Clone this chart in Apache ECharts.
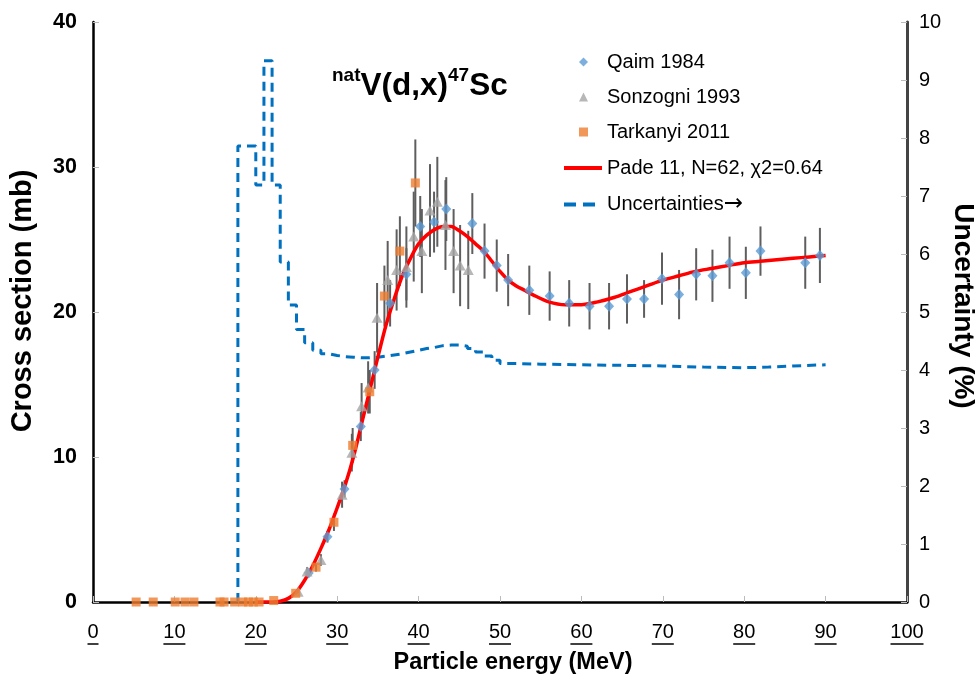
<!DOCTYPE html>
<html><head><meta charset="utf-8">
<script src="https://cdn.jsdelivr.net/npm/echarts@6/dist/echarts.min.js"></script>
<style>html,body{margin:0;padding:0;background:#fff}#c{width:975px;height:681px}</style>
</head><body><div id="c"></div>
<script>
// ---- data ----
const xTicks = [0,10,20,30,40,50,60,70,80,90,100];
const qaimE   = [26.5,28.8,30.9,32.9,34.6,36.5,38.5,40.2,41.9,43.4,46.6,48.1,49.6,51.0,53.6,56.1,58.5,61.0,63.4,65.6,67.7,69.9,72.0,74.1,76.1,78.2,80.2,82.0,87.5,89.3];
const qaimS   = [2.0,4.5,7.8,12.1,16.0,20.6,22.6,25.9,26.2,27.1,26.1,24.2,23.2,22.2,21.5,21.1,20.6,20.4,20.4,20.9,20.9,22.3,21.2,22.6,22.5,23.4,22.7,24.2,23.4,23.9];
const qaimErr = [0.2,0.4,0.6,1.0,1.3,1.6,1.8,2.1,2.1,2.2,2.1,1.9,1.8,1.8,1.7,1.7,1.6,1.6,1.6,1.7,1.3,1.8,1.7,1.8,1.8,1.8,1.8,1.7,1.8,1.9];
const sonzE   = [25.2,26.3,28.0,30.6,31.8,33.0,33.8,34.9,36.2,37.3,38.5,39.4,40.4,41.4,42.3,43.3,44.3,45.1,46.1];
const sonzS   = [0.7,2.1,2.9,7.4,10.3,13.5,14.8,19.6,22.2,22.9,23.1,25.2,24.2,27.0,27.6,26.0,24.2,23.2,22.9];
const sonzErr = [0.1,0.3,0.4,0.9,1.3,1.6,1.8,2.4,2.7,2.8,2.8,3.1,2.9,3.2,3.1,3.1,2.9,2.8,2.7];
const tarkE   = [5.3,7.4,10.1,11.3,12.4,15.6,16.1,17.4,18.4,19.1,19.7,20.4,22.2,24.9,27.4,29.6,31.9,34.0,35.8,37.7,39.6];
const tarkS   = [0,0,0,0,0,0,0,0,0,0,0,0,0.1,0.6,2.4,5.5,10.8,14.5,21.1,24.2,28.9];
const tarkErr = [0,0,0,0,0,0,0,0,0,0,0,0,0,0.1,0.3,0.6,1.2,1.5,2.1,2.4,3.0];
const fitE = [20,21,22,23,24,25,26,27,28,29,30,31,32,33,34,35,36,37,38,39,40,41,42,43,44,45,46,47,48,49,50,51,52,53,54,56,58,60,62,64,66,68,70,72,74,76,78,80,82,84,86,88,90];
const fitS = [0,0,0,0.05,0.25,0.7,1.5,2.5,3.7,5.0,6.5,8.1,10.0,12.3,14.6,16.9,19.1,20.9,22.5,23.7,24.7,25.3,25.7,25.9,25.9,25.6,25.2,24.7,24.2,23.5,22.8,22.2,21.8,21.5,21.2,20.7,20.5,20.5,20.7,21.0,21.4,21.8,22.2,22.5,22.8,23.0,23.2,23.4,23.5,23.6,23.7,23.8,23.9];
const uncE = [17.8,17.8,20,21,22,23,24,25,26,27,28,29,30,31,32,33,34,35,36,37,38,39,40,41,42,43,44,45,46,47,48,49,50,52,55,60,65,70,75,80,83,86,90];
const uncV = [0,7.86,7.19,9.33,7.19,5.86,5.12,4.70,4.47,4.34,4.28,4.25,4.23,4.22,4.21,4.21,4.22,4.24,4.26,4.28,4.31,4.34,4.37,4.39,4.42,4.43,4.43,4.41,4.37,4.31,4.24,4.17,4.11,4.10,4.09,4.08,4.07,4.05,4.04,4.05,4.07,4.09,4.09];

const FONT = 'Liberation Sans, Arial, sans-serif';
const chart = echarts.init(document.getElementById('c'));

function errBars(E, S, Err) {
  return {
    type: 'custom', name: 'err', silent: true, z: 1,
    renderItem: function (params, api) {
      const x = api.value(0), y = api.value(1), e = api.value(2);
      const a = api.coord([x, y - e]), b = api.coord([x, y + e]);
      return { type: 'line', shape: {x1: a[0], y1: a[1], x2: b[0], y2: b[1]},
               style: {stroke: '#5e5e5e', lineWidth: 2} };
    },
    data: E.map((x, i) => [x, S[i], Err[i]])
  };
}

const legendText = {fontFamily: FONT, fontSize: 20, color: '#000', lineHeight: 22};

chart.setOption({
  animation: false,
  backgroundColor: '#fff',
  textStyle: {fontFamily: FONT},
  grid: {left: 93, right: 68, top: 22, bottom: 79, containLabel: false, outerBoundsMode: 'none'},
  title: {
    left: 332, top: 66, padding: 0,
    text: '{sup|nat}{b|V(d,x)}{sup|47}{b|Sc}',
    textStyle: {
      rich: {
        b: {fontFamily: FONT, fontWeight: 'bold', fontSize: 31.5, lineHeight: 36, color: '#000', verticalAlign: 'bottom'},
        sup: {fontFamily: FONT, fontWeight: 'bold', fontSize: 19, lineHeight: 36, color: '#000', verticalAlign: 'top', padding: [0,0,14,0]}
      }
    }
  },
  legend: [{
    orient: 'vertical', left: 579, top: 51, padding: 0,
    itemWidth: 9, itemHeight: 9, itemGap: 13,
    textStyle: Object.assign({padding: [0,0,0,14]}, legendText),
    data: ['Qaim 1984', 'Sonzogni 1993', 'Tarkanyi 2011']
  }, {
    orient: 'vertical', left: 564, top: 157, padding: 0,
    itemWidth: 38, itemHeight: 4, itemGap: 14,
    itemStyle: {borderWidth: 0},
    textStyle: Object.assign({
      rich: {
        t: {fontFamily: FONT, fontSize: 20, color: '#000', lineHeight: 22},
        a: {fontFamily: 'DejaVu Sans', fontSize: 23, color: '#000', lineHeight: 22}
      }
    }, legendText),
    formatter: function (name) {
      if (name.slice(-1) === '→') return '{t|' + name.slice(0, -1) + '}{a|→}';
      return '{t|' + name + '}';
    },
    data: [
      {name: 'Pade 11, N=62, χ2=0.64', icon: 'path://M0,0h38v4h-38z'},
      {name: 'Uncertainties→', icon: 'path://M0,0h12v4h-12zM19,0h12v4h-12zM38,0'}
    ]
  }],
  xAxis: {
    type: 'value', min: 0, max: 100, interval: 10,
    name: 'Particle energy (MeV)', nameLocation: 'middle', nameGap: 49, nameMoveOverlap: false,
    nameTextStyle: {fontFamily: FONT, fontWeight: 'bold', fontSize: 23.5, color: '#000', padding: [0,0,0,26]},
    axisLine: {lineStyle: {color: '#000', width: 2.5}},
    axisTick: {inside: true, length: 6, lineStyle: {color: '#bbb', width: 1}},
    splitLine: {show: false},
    axisLabel: {
      margin: 20, color: '#000',
      formatter: v => '{n|' + v + '}\n{u' + String(v).length + '| }',
      rich: {
        n: {fontFamily: FONT, fontSize: 20, lineHeight: 21, color: '#000'},
        u1: {width: 11, height: 1.5, backgroundColor: '#000', fontSize: 1, lineHeight: 2},
        u2: {width: 22, height: 1.5, backgroundColor: '#000', fontSize: 1, lineHeight: 2},
        u3: {width: 33, height: 1.5, backgroundColor: '#000', fontSize: 1, lineHeight: 2}
      }
    }
  },
  yAxis: [{
    type: 'value', min: 0, max: 40, interval: 10,
    name: 'Cross section (mb)', nameLocation: 'middle', nameGap: 56, nameMoveOverlap: false,
    nameTextStyle: {fontFamily: FONT, fontWeight: 'bold', fontSize: 29, color: '#000', padding: [0,0,0,22]},
    axisLine: {show: true, lineStyle: {color: '#000', width: 2.5}},
    axisTick: {show: true, inside: true, length: 6, lineStyle: {color: '#bbb'}},
    splitLine: {show: false},
    axisLabel: {fontFamily: FONT, fontSize: 21.5, fontWeight: 'bold', color: '#000', margin: 16}
  }, {
    type: 'value', min: 0, max: 10, interval: 1, position: 'right',
    name: 'Uncertainty (%)', nameLocation: 'middle', nameGap: 42, nameRotate: -90, nameMoveOverlap: false,
    nameTextStyle: {fontFamily: FONT, fontWeight: 'bold', fontSize: 28, color: '#000', padding: [10,12,0,0]},
    axisLine: {show: true, lineStyle: {color: '#444', width: 3}},
    axisTick: {show: true, inside: true, length: 6, lineStyle: {color: '#bbb'}},
    splitLine: {show: false},
    axisLabel: {fontFamily: FONT, fontSize: 20, color: '#000', margin: 12}
  }],
  series: [
    errBars(qaimE, qaimS, qaimErr),
    errBars(sonzE, sonzS, sonzErr),
    errBars(tarkE, tarkS, tarkErr),
    {
      name: 'Uncertainties→', type: 'line', yAxisIndex: 1, step: 'end', symbol: 'none', z: 2,
      lineStyle: {color: '#0070C0', width: 3, type: [9, 6]},
      itemStyle: {color: '#0070C0'},
      data: uncE.map((x, i) => [x, uncV[i]])
    },
    {
      name: 'Pade 11, N=62, χ2=0.64', type: 'line', smooth: 0.3, symbol: 'none', z: 3,
      lineStyle: {color: '#ff0000', width: 3.5}, itemStyle: {color: '#ff0000'},
      data: fitE.map((x, i) => [x, fitS[i]])
    },
    {
      name: 'Qaim 1984', type: 'scatter', symbol: 'diamond', symbolSize: [10, 11], z: 4,
      itemStyle: {color: '#5B9BD5'},
      data: qaimE.map((x, i) => [x, qaimS[i]])
    },
    {
      name: 'Sonzogni 1993', type: 'scatter', symbol: 'triangle', symbolSize: [11, 10], z: 4,
      itemStyle: {color: '#A5A5A5'},
      data: sonzE.map((x, i) => [x, sonzS[i]])
    },
    {
      name: 'Tarkanyi 2011', type: 'scatter', symbol: 'rect', symbolSize: 9, z: 4,
      itemStyle: {color: '#ED7D31'},
      data: tarkE.map((x, i) => [x, tarkS[i]])
    }
  ]
});
</script></body></html>
